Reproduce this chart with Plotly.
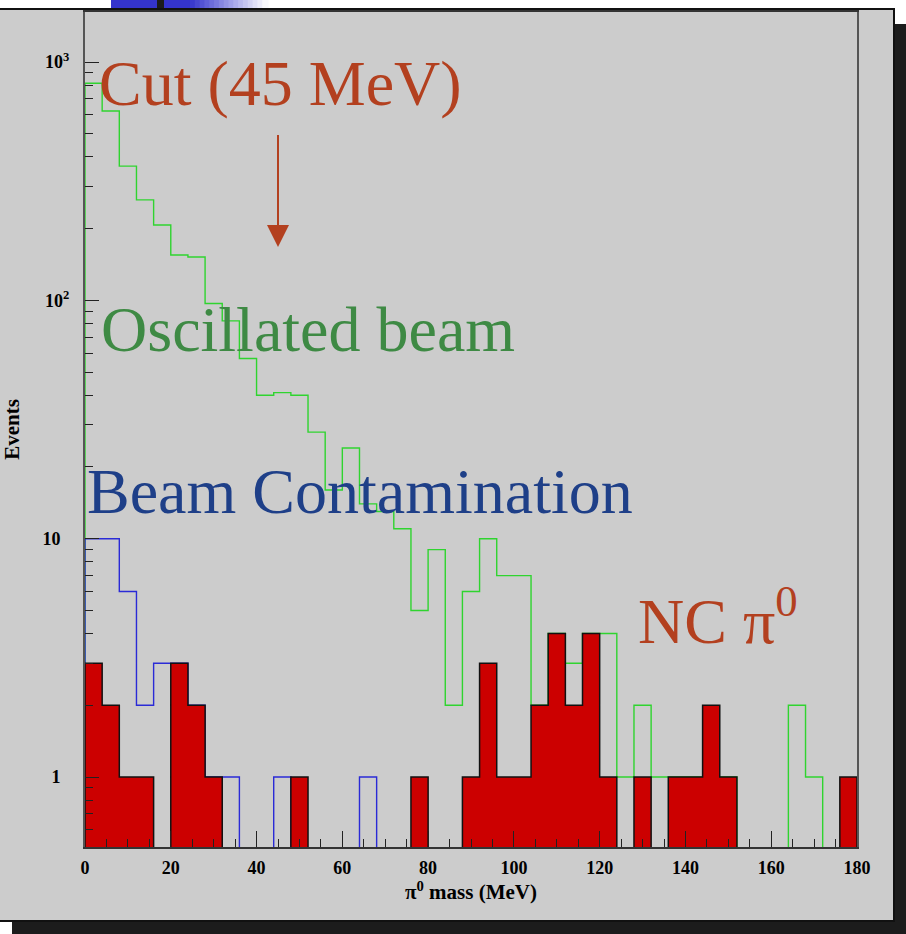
import plotly.graph_objects as go

# ---- histogram data: 4 MeV bins from 0 to 180 MeV ----
BIN_WIDTH = 4
edges = list(range(0, 181, BIN_WIDTH))

oscillated_beam = [815, 623, 366, 264, 207, 155, 152, 97, 82, 57,
                   40, 41, 40, 28, 16, 24, 14, 13, 11, 5,
                   9, 2, 6, 10, 7, 7, 2, 4, 3, 4,
                   4, 1, 2, 1, 1, 1, 1, 1, 0, 0,
                   0, 2, 1, 0, 0]
beam_contamination = [10, 10, 6, 2, 3, 3, 2, 1, 1, 0,
                      0, 1, 0, 0, 0, 0, 1, 0, 0, 0,
                      0, 0, 0, 0, 0, 0, 0, 0, 0, 0,
                      0, 0, 0, 0, 0, 0, 0, 0, 0, 0,
                      0, 0, 0, 0, 0]
nc_pi0 = [3, 2, 1, 1, 0, 3, 2, 1, 0, 0,
          0, 0, 1, 0, 0, 0, 0, 0, 0, 1,
          0, 0, 1, 3, 1, 1, 2, 4, 2, 4,
          1, 0, 1, 0, 1, 1, 2, 1, 0, 0,
          0, 0, 0, 0, 1]

CUT_MEV = 45
y_tickvals = [1, 10, 100, 1000]
y_ticktext = ["1\u2007", "10\u2007", "10<sup>2</sup>", "10<sup>3</sup>"]
x_tickvals = list(range(0, 181, 20))

FLOOR = 1e-3  # empty bins drop below the visible log range


def step_outline(bin_edges, counts):
    """Histogram contour: up/down at each bin edge, flat across each bin."""
    xs, ys = [bin_edges[0]], [FLOOR]
    for i, c in enumerate(counts):
        v = c if c > 0 else FLOOR
        xs += [bin_edges[i], bin_edges[i + 1]]
        ys += [v, v]
    xs.append(bin_edges[-1])
    ys.append(FLOOR)
    return xs, ys


# ---- page geometry (pixels) ----
W, H = 906, 934
L, R, T, B = 85, 857, 12, 847


def px(xp):
    return (xp - L) / (R - L)


def py(yp):
    return (B - yp) / (B - T)


fig = go.Figure()

gx, gy = step_outline(edges, oscillated_beam)
fig.add_trace(go.Scatter(x=gx, y=gy, mode="lines", name="Oscillated beam",
                         line=dict(color="#2fd42f", width=1.4)))
bx, by = step_outline(edges, beam_contamination)
fig.add_trace(go.Scatter(x=bx, y=by, mode="lines", name="Beam Contamination",
                         line=dict(color="#2a2ad6", width=1.4)))
rx, ry = step_outline(edges, nc_pi0)
fig.add_trace(go.Scatter(x=rx, y=ry, mode="lines", name="NC pi0",
                         fill="toself", fillcolor="#cc0000",
                         line=dict(color="#111111", width=1.5)))

shapes = []
# drop shadow behind the canvas
shapes.append(dict(type="rect", xref="paper", yref="paper", layer="below",
                   x0=px(895), x1=px(906), y0=py(934), y1=py(24),
                   fillcolor="#1c1c1c", line=dict(width=0)))
shapes.append(dict(type="rect", xref="paper", yref="paper", layer="below",
                   x0=px(12), x1=px(906), y0=py(934), y1=py(921),
                   fillcolor="#1c1c1c", line=dict(width=0)))
# grey canvas
shapes.append(dict(type="rect", xref="paper", yref="paper", layer="below",
                   x0=px(-2), x1=px(894), y0=py(921), y1=py(9),
                   fillcolor="#cccccc", line=dict(color="#111111", width=2)))
# banner at the top edge: solid blue, dark bar, blue fading to white
shapes.append(dict(type="rect", xref="paper", yref="paper", layer="below",
                   x0=px(111), x1=px(190), y0=py(8), y1=py(0),
                   fillcolor="#3434cc", line=dict(width=0)))
shapes.append(dict(type="rect", xref="paper", yref="paper", layer="below",
                   x0=px(157), x1=px(164), y0=py(8), y1=py(0),
                   fillcolor="#1c1c1c", line=dict(width=0)))
n_fade = 16
for k in range(n_fade):
    t = (k + 0.5) / n_fade
    r = int(0x34 + (255 - 0x34) * t)
    g = int(0x34 + (255 - 0x34) * t)
    b = int(0xcc + (255 - 0xcc) * t)
    x0 = 190 + (267 - 190) * k / n_fade
    x1 = 190 + (267 - 190) * (k + 1) / n_fade
    shapes.append(dict(type="rect", xref="paper", yref="paper", layer="below",
                       x0=px(x0), x1=px(x1) + 0.002, y0=py(8), y1=py(0),
                       fillcolor=f"rgb({r},{g},{b})", line=dict(width=0)))

RUST = "#b3401f"
serif = "Liberation Serif"
annotations = [
    dict(text="Cut (45 MeV)", x=px(97), y=py(84), xref="paper", yref="paper",
         xanchor="left", yanchor="middle", showarrow=False,
         font=dict(family=serif, size=64, color=RUST)),
    dict(text="Oscillated beam", x=px(99), y=py(330), xref="paper", yref="paper",
         xanchor="left", yanchor="middle", showarrow=False,
         font=dict(family=serif, size=64, color="#3e8a44")),
    dict(text="Beam Contamination", x=px(85), y=py(491), xref="paper", yref="paper",
         xanchor="left", yanchor="middle", showarrow=False,
         font=dict(family=serif, size=64, color="#1e3f88")),
    dict(text="NC \u03c0<sup>0</sup>", x=px(636), y=py(616), xref="paper", yref="paper",
         xanchor="left", yanchor="middle", showarrow=False,
         font=dict(family=serif, size=64, color=RUST)),
    # arrow marking the mass cut
    dict(text=" ", x=CUT_MEV, y=py(247), xref="x", yref="paper",
         showarrow=True, arrowhead=2, arrowsize=2.2, arrowwidth=2,
         arrowcolor=RUST, ax=0, ay=-122, standoff=0),
]

tick_font = dict(family=serif, size=18, color="#000000", weight="bold")
title_font = dict(family=serif, size=21, color="#000000", weight="bold")

fig.update_layout(
    width=W, height=H, autosize=False,
    margin=dict(l=L, r=W - R, t=T, b=H - B, pad=0),
    paper_bgcolor="#ffffff",
    plot_bgcolor="rgba(0,0,0,0)",
    showlegend=False,
    shapes=shapes,
    annotations=annotations,
    xaxis=dict(
        range=[0, 180], tickvals=x_tickvals, ticks="inside", ticklen=16,
        tickwidth=1.3, tickcolor="#222222", tickfont=tick_font,
        ticklabelstandoff=3, automargin=False,
        minor=dict(ticks="inside", ticklen=8, tickwidth=1.3,
                   tickcolor="#222222", dtick=5, tick0=0),
        showline=True, linecolor="#333333", linewidth=2, mirror=True,
        showgrid=False, zeroline=False,
        title=dict(text="\u03c0<sup>0</sup> mass (MeV)", font=title_font, standoff=8),
    ),
    yaxis=dict(
        type="log", range=[-0.2937, 3.210],
        tickvals=y_tickvals, ticktext=y_ticktext,
        ticks="inside", ticklen=14, tickwidth=1.3, tickcolor="#222222",
        tickfont=tick_font, ticklabelstandoff=10, automargin=False,
        minor=dict(ticks="inside", ticklen=8, tickwidth=1.3, tickcolor="#222222",
                   tickmode="array",
                   tickvals=[m * 10 ** e for e in range(-1, 3) for m in range(2, 10)
                             if m * 10 ** e >= 0.5]),
        showline=True, linecolor="#555555", linewidth=2, mirror=True,
        showgrid=False, zeroline=False,
        title=dict(text="Events", font=title_font, standoff=20),
    ),
)

fig.write_html("out.html", config={"displayModeBar": False})
